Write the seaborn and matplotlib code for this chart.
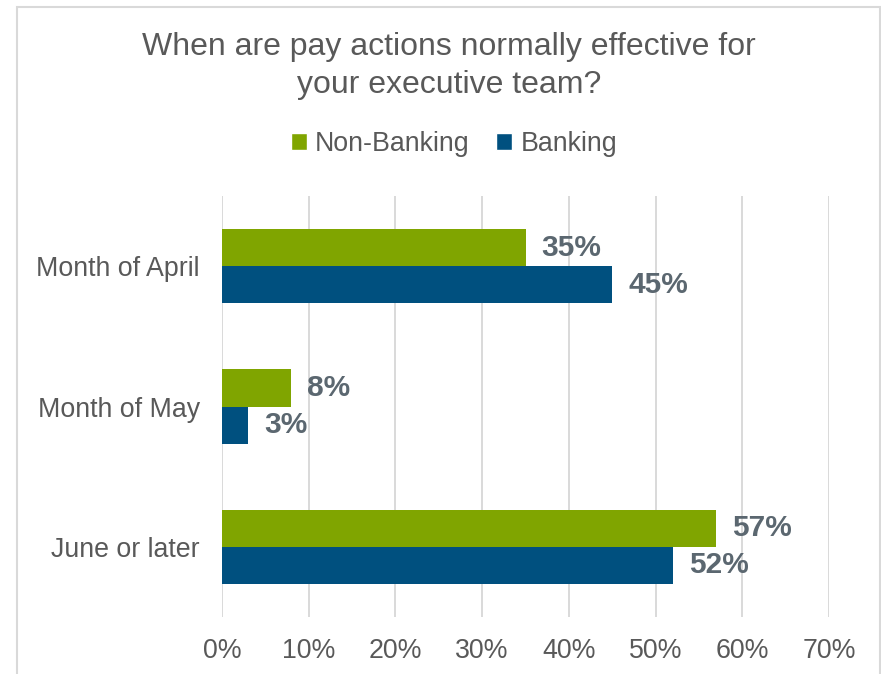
import matplotlib
matplotlib.use("Agg")
import matplotlib.pyplot as plt
from matplotlib.patches import Rectangle, Patch
import seaborn as sns
import pandas as pd

# Survey responses: share of companies by timing of executive pay actions
periods = ["Month of April", "Month of May", "June or later"]
non_banking = [35, 8, 57]
banking = [45, 3, 52]
groups = ["Non-Banking", "Banking"]
x_ticks = [0, 10, 20, 30, 40, 50, 60, 70]

GREEN = "#80A500"
BLUE = "#00507F"
TEXT = "#595959"
LABEL = "#5B6770"
GRID = "#D9D9D9"

df = pd.DataFrame({
    "period": periods * 2,
    "pct": non_banking + banking,
    "group": [groups[0]] * len(periods) + [groups[1]] * len(periods),
})

sns.set_style("white")
plt.rcParams["font.family"] = ["Liberation Sans", "DejaVu Sans"]

fig = plt.figure(figsize=(8.81, 6.74), dpi=100)
ax = fig.add_axes([222 / 881, 57 / 674, 607 / 881, 421 / 674])

sns.barplot(
    data=df, y="period", x="pct", hue="group", hue_order=groups,
    order=periods, orient="h", palette=[GREEN, BLUE], saturation=1,
    width=0.53, ax=ax, legend=False, linewidth=0,
)

for cont in ax.containers:
    vals = [bar.get_width() for bar in cont]
    ax.bar_label(cont, labels=[f"{v:.0f}%" for v in vals], padding=11.5,
                 fontsize=21.5, fontweight="bold", color=LABEL)

ax.set_xlim(0, 70)
ax.set_xticks(x_ticks)
ax.set_xticklabels([f"{t}%" for t in x_ticks])
ax.set_xlabel("")
ax.set_ylabel("")
ax.grid(axis="x", color=GRID, linewidth=1.4)
ax.grid(axis="y", visible=False)
ax.set_axisbelow(True)
for s in ax.spines.values():
    s.set_visible(False)
ax.tick_params(axis="x", length=0, pad=15, labelsize=19.3, labelcolor=TEXT)
ax.tick_params(axis="y", length=0, pad=16, labelsize=19.3, labelcolor=TEXT)

# Chart frame
fig.patches.append(Rectangle((17 / 881, -0.05), 863 / 881, 1.05 - 7 / 674,
                             transform=fig.transFigure, fill=False,
                             edgecolor=GRID, linewidth=1.5))

fig.text(449 / 881, (674 - 66) / 674,
         "When are pay actions normally effective for\nyour executive team?",
         ha="center", va="center", fontsize=23, color=TEXT, linespacing=1.32)

handles = [Patch(facecolor=GREEN), Patch(facecolor=BLUE)]
fig.legend(handles, groups, loc="center", bbox_to_anchor=(454 / 881, (674 - 144) / 674),
           ncol=2, frameon=False, fontsize=19.3, labelcolor=TEXT,
           handlelength=0.6, handleheight=0.6, handletextpad=0.3, columnspacing=1.0)

fig.savefig("out.png", dpi=100)
